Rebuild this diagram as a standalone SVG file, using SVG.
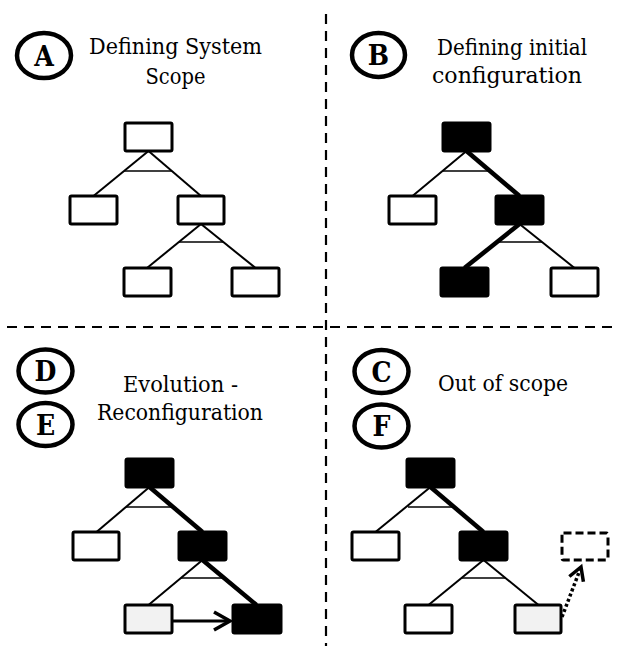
<svg xmlns="http://www.w3.org/2000/svg" width="618" height="646" viewBox="0 0 618 646">
<style>
.bg{fill:#fff}
.sep{stroke:#000;stroke-width:2.2;stroke-dasharray:10 7;fill:none}
.box{stroke:#000;stroke-width:3;fill:#fff}
.on{fill:#000}
.gray{fill:#f2f2f2}
.ghost{stroke:#000;stroke-width:3;fill:#fff;stroke-dasharray:8 4}
.thin{stroke:#000;stroke-width:2;fill:none}
.bar{stroke:#000;stroke-width:1.4;fill:none}
.thick{stroke:#000;stroke-width:4.5;fill:none}
.arrow{stroke:#000;stroke-width:3.2;fill:none}
.dot{stroke:#000;stroke-width:3.5;fill:none;stroke-dasharray:3 2.5}
.badge ellipse{fill:#fff;stroke:#000;stroke-width:4.5}
.badge text{font-family:'DejaVu Serif Condensed','DejaVu Serif','Liberation Serif',serif;font-stretch:condensed;font-weight:bold;font-size:28px;text-anchor:middle;fill:#000}
.title{font-family:'DejaVu Serif Condensed','DejaVu Serif','Liberation Serif',serif;font-stretch:condensed;font-size:23px;text-anchor:middle;fill:#000}
</style>
<defs>
<marker id="chev" markerUnits="userSpaceOnUse" markerWidth="40" markerHeight="40" viewBox="-20 -20 40 40" refX="0" refY="0" orient="auto" overflow="visible">
<path d="M-16,-9 L0,0 L-16,9" fill="none" stroke="#000" stroke-width="3.5" stroke-dasharray="none" stroke-linejoin="miter"/>
</marker>
<marker id="chevs" markerUnits="userSpaceOnUse" markerWidth="40" markerHeight="40" viewBox="-20 -20 40 40" refX="0" refY="0" orient="auto" overflow="visible">
<path d="M-13,-7.5 L0,0 L-13,7.5" fill="none" stroke="#000" stroke-width="3.5" stroke-dasharray="none" stroke-linejoin="miter"/>
</marker>
</defs>
<rect class="bg" x="0" y="0" width="618" height="646"/>

<g id="separators">
<line class="sep" x1="326" y1="14" x2="326" y2="646"/>
<line class="sep" x1="7" y1="327" x2="618" y2="327"/>
</g>

<g id="badgeA" class="badge"><ellipse cx="44" cy="55.5" rx="27" ry="22.5"/><text x="44" y="65.5">A</text></g>
<g id="titleA"><text class="title" x="175.5" y="54" textLength="173" lengthAdjust="spacingAndGlyphs">Defining System</text><text class="title" x="175.5" y="84" textLength="60" lengthAdjust="spacingAndGlyphs">Scope</text></g>

<g id="badgeB" class="badge"><ellipse cx="378.5" cy="55" rx="26.5" ry="22"/><text x="378.5" y="65">B</text></g>
<g id="titleB"><text class="title" x="512" y="55" textLength="150" lengthAdjust="spacingAndGlyphs">Defining initial</text><text class="title" x="507" y="83" textLength="150" lengthAdjust="spacingAndGlyphs">configuration</text></g>

<g id="badgeD" class="badge"><ellipse cx="45.5" cy="371" rx="27" ry="21.5"/><text x="45.5" y="381">D</text></g>
<g id="badgeE" class="badge"><ellipse cx="45.5" cy="424.5" rx="27" ry="21.5"/><text x="45.5" y="434.5">E</text></g>
<g id="titleD"><text class="title" x="180.5" y="392" textLength="115" lengthAdjust="spacingAndGlyphs">Evolution -</text><text class="title" x="180" y="420" textLength="166" lengthAdjust="spacingAndGlyphs">Reconfiguration</text></g>

<g id="badgeC" class="badge"><ellipse cx="381.5" cy="371.5" rx="27" ry="21.5"/><text x="381.5" y="381.5">C</text></g>
<g id="badgeF" class="badge"><ellipse cx="381.5" cy="426" rx="27" ry="21.5"/><text x="381.5" y="436">F</text></g>
<g id="titleC"><text class="title" x="503" y="391" textLength="130" lengthAdjust="spacingAndGlyphs">Out of scope</text></g>

<g id="connectors">
<line class="thin" x1="148.5" y1="151" x2="93.5" y2="196"/>
<line class="thin" x1="148.5" y1="151" x2="201" y2="196"/>
<line class="bar" x1="124" y1="171" x2="172" y2="171"/>
<line class="thin" x1="201" y1="224" x2="147" y2="268"/>
<line class="thin" x1="201" y1="224" x2="255.5" y2="268"/>
<line class="bar" x1="179" y1="242" x2="223" y2="242"/>
<line class="thin" x1="466.5" y1="151" x2="412.5" y2="196"/>
<line class="thick" x1="466.5" y1="151" x2="519.5" y2="196"/>
<line class="bar" x1="443" y1="171" x2="490" y2="171"/>
<line class="thick" x1="519.5" y1="224" x2="464.5" y2="268"/>
<line class="thin" x1="519.5" y1="224" x2="574.5" y2="268"/>
<line class="bar" x1="497" y1="242" x2="542" y2="242"/>
<line class="thin" x1="149.5" y1="487" x2="96.5" y2="532"/>
<line class="thick" x1="149.5" y1="487" x2="202.5" y2="532"/>
<line class="bar" x1="126" y1="507" x2="173" y2="507"/>
<line class="thin" x1="202.5" y1="560" x2="148.5" y2="605"/>
<line class="thick" x1="202.5" y1="560" x2="256.5" y2="605"/>
<line class="bar" x1="181" y1="578" x2="224" y2="578"/>
<line class="arrow" x1="172" y1="621" x2="230" y2="621" marker-end="url(#chev)"/>
<line class="thin" x1="430.5" y1="487" x2="375.5" y2="532"/>
<line class="thick" x1="430.5" y1="487" x2="483.5" y2="532"/>
<line class="bar" x1="408" y1="507" x2="454" y2="507"/>
<line class="thin" x1="483.5" y1="560" x2="428.5" y2="605"/>
<line class="thin" x1="483.5" y1="560" x2="538.5" y2="605"/>
<line class="bar" x1="461" y1="578" x2="506" y2="578"/>
<line class="dot" x1="562" y1="617" x2="581" y2="567" marker-end="url(#chevs)"/>
</g>

<g id="A-root"><rect class="box" x="125" y="123" width="47" height="28" rx="1.5"/></g>
<g id="A-left"><rect class="box" x="70" y="196" width="47" height="28" rx="1.5"/></g>
<g id="A-right"><rect class="box" x="178" y="196" width="46" height="28" rx="1.5"/></g>
<g id="A-bl"><rect class="box" x="124" y="268" width="47" height="28" rx="1.5"/></g>
<g id="A-br"><rect class="box" x="232" y="268" width="47" height="28" rx="1.5"/></g>

<g id="B-root"><rect class="box on" x="443" y="123" width="47" height="28" rx="1.5"/></g>
<g id="B-left"><rect class="box" x="389" y="196" width="47" height="28" rx="1.5"/></g>
<g id="B-right"><rect class="box on" x="496" y="196" width="47" height="28" rx="1.5"/></g>
<g id="B-bl"><rect class="box on" x="441" y="268" width="47" height="28" rx="1.5"/></g>
<g id="B-br"><rect class="box" x="551" y="268" width="47" height="28" rx="1.5"/></g>

<g id="D-root"><rect class="box on" x="126" y="459" width="47" height="28" rx="1.5"/></g>
<g id="D-left"><rect class="box" x="73" y="532" width="46" height="28" rx="1.5"/></g>
<g id="D-right"><rect class="box on" x="179" y="532" width="47" height="28" rx="1.5"/></g>
<g id="D-bl"><rect class="box gray" x="125" y="605" width="47" height="28" rx="1.5"/></g>
<g id="D-br"><rect class="box on" x="233" y="605" width="48" height="28" rx="1.5"/></g>

<g id="C-root"><rect class="box on" x="407" y="459" width="47" height="28" rx="1.5"/></g>
<g id="C-left"><rect class="box" x="352" y="532" width="47" height="28" rx="1.5"/></g>
<g id="C-right"><rect class="box on" x="460" y="532" width="47" height="28" rx="1.5"/></g>
<g id="C-bl"><rect class="box" x="405" y="605" width="47" height="28" rx="1.5"/></g>
<g id="C-br"><rect class="box gray" x="515" y="605" width="46" height="28" rx="1.5"/></g>
<g id="C-out"><rect class="ghost" x="562" y="533" width="46" height="27" rx="1.5"/></g>
</svg>
